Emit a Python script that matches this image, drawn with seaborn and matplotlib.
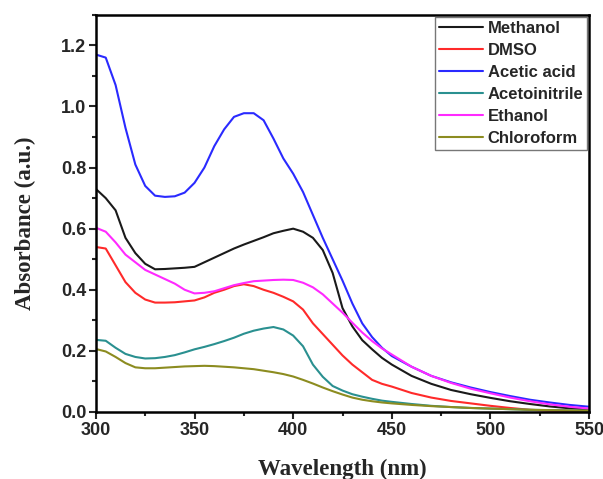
import numpy as np
import pandas as pd
import matplotlib
matplotlib.use("Agg")
import matplotlib.pyplot as plt
from matplotlib.ticker import MultipleLocator
import seaborn as sns

wavelength = [300, 305, 310, 315, 320, 325, 330, 335, 340, 345, 350, 355, 360, 365, 370,
              375, 380, 385, 390, 395, 400, 405, 410, 415, 420, 425, 430, 435, 440, 445,
              450, 460, 470, 480, 490, 500, 510, 520, 530, 540, 550]

methanol = [0.73, 0.70, 0.66, 0.57, 0.52, 0.485, 0.467, 0.468, 0.47, 0.472, 0.475, 0.49, 0.505,
            0.52, 0.535, 0.548, 0.56, 0.572, 0.585, 0.593, 0.60, 0.59, 0.57, 0.53, 0.455, 0.34,
            0.28, 0.235, 0.205, 0.177, 0.155, 0.118, 0.092, 0.072, 0.058, 0.046, 0.035, 0.026,
            0.018, 0.012, 0.008]
dmso = [0.54, 0.535, 0.48, 0.425, 0.39, 0.368, 0.358, 0.358, 0.359, 0.362, 0.365, 0.375, 0.39,
        0.40, 0.412, 0.418, 0.412, 0.40, 0.39, 0.377, 0.362, 0.335, 0.29, 0.255, 0.22, 0.185,
        0.155, 0.13, 0.105, 0.092, 0.083, 0.062, 0.047, 0.036, 0.028, 0.02, 0.013, 0.007,
        0.004, 0.003, 0.002]
acetic_acid = [1.17, 1.16, 1.07, 0.93, 0.81, 0.74, 0.708, 0.704, 0.706, 0.718, 0.75, 0.80, 0.87,
               0.925, 0.966, 0.978, 0.978, 0.955, 0.895, 0.83, 0.78, 0.72, 0.645, 0.57, 0.50,
               0.43, 0.355, 0.29, 0.245, 0.21, 0.183, 0.148, 0.118, 0.097, 0.08, 0.065, 0.052,
               0.04, 0.031, 0.023, 0.017]
acetonitrile = [0.236, 0.233, 0.21, 0.19, 0.18, 0.175, 0.176, 0.18, 0.186, 0.195, 0.205, 0.213,
                0.222, 0.232, 0.243, 0.256, 0.266, 0.273, 0.278, 0.27, 0.25, 0.215, 0.155, 0.115,
                0.085, 0.07, 0.058, 0.05, 0.043, 0.037, 0.033, 0.026, 0.02, 0.016, 0.013, 0.011,
                0.009, 0.007, 0.006, 0.005, 0.004]
ethanol = [0.603, 0.59, 0.555, 0.515, 0.49, 0.465, 0.45, 0.435, 0.42, 0.40, 0.388, 0.39, 0.395,
           0.405, 0.415, 0.422, 0.428, 0.43, 0.432, 0.433, 0.432, 0.423, 0.408, 0.385, 0.355,
           0.325, 0.292, 0.26, 0.232, 0.208, 0.188, 0.148, 0.118, 0.095, 0.076, 0.061, 0.047,
           0.035, 0.025, 0.017, 0.011]
chloroform = [0.206, 0.198, 0.18, 0.16, 0.146, 0.143, 0.143, 0.145, 0.147, 0.149, 0.15, 0.151,
              0.15, 0.148, 0.146, 0.143, 0.14, 0.135, 0.13, 0.124, 0.116, 0.105, 0.093, 0.08,
              0.068, 0.057, 0.047, 0.04, 0.035, 0.031, 0.028, 0.023, 0.019, 0.016, 0.013, 0.011,
              0.009, 0.007, 0.006, 0.005, 0.004]

solvents = ["Methanol", "DMSO", "Acetic acid", "Acetoinitrile", "Ethanol", "Chloroform"]
series = [methanol, dmso, acetic_acid, acetonitrile, ethanol, chloroform]
colors = ["#1a1a1a", "#ff2a2a", "#2a2aff", "#2a9090", "#ff2aff", "#8c8c20"]

frames = []
for name, vals in zip(solvents, series):
    frames.append(pd.DataFrame({"Wavelength": wavelength, "Absorbance": vals, "Solvent": name}))
df = pd.concat(frames, ignore_index=True)

sns.set_style("ticks")
plt.rcParams["font.family"] = ["Liberation Sans", "DejaVu Sans"]

fig = plt.figure(figsize=(6.03, 4.79), dpi=100)
ax = fig.add_axes([0.159, 0.140, 0.818, 0.829])

sns.lineplot(data=df, x="Wavelength", y="Absorbance", hue="Solvent", hue_order=solvents,
             palette=dict(zip(solvents, colors)), linewidth=1.5, ax=ax, sort=False)

ax.set_xlim(300, 550)
ax.set_ylim(0, 1.3)
ax.xaxis.set_major_locator(MultipleLocator(50))
ax.xaxis.set_minor_locator(MultipleLocator(25))
ax.yaxis.set_major_locator(MultipleLocator(0.2))
ax.yaxis.set_minor_locator(MultipleLocator(0.1))
ax.yaxis.set_major_formatter(matplotlib.ticker.FormatStrFormatter("%.1f"))

for s in ax.spines.values():
    s.set_linewidth(1.8)
    s.set_color("black")
ax.tick_params(which="major", direction="out", length=5, width=1.5, labelsize=13, pad=2)
ax.tick_params(which="minor", direction="out", length=3, width=1.5)
for lab in ax.get_xticklabels() + ax.get_yticklabels():
    lab.set_fontweight("bold")

ax.set_xlabel("Wavelength (nm)", fontsize=16.5, fontweight="bold",
              family=["Liberation Serif", "DejaVu Serif"])
ax.set_ylabel("Absorbance (a.u.)", fontsize=16.5, fontweight="bold",
              family=["Liberation Serif", "DejaVu Serif"])
ax.xaxis.set_label_coords(0.5, -0.117)
ax.yaxis.set_label_coords(-0.122, 0.475)

leg = ax.legend(loc="upper right", frameon=True, fancybox=False, borderaxespad=0.1,
                prop={"weight": "bold", "size": 12}, handlelength=2.6, labelspacing=0.42,
                handletextpad=0.3, borderpad=0.25)
leg.get_frame().set_edgecolor("#777777")
leg.get_frame().set_linewidth(1.0)
leg.get_frame().set_alpha(1.0)

fig.savefig("out.png", dpi=100)
